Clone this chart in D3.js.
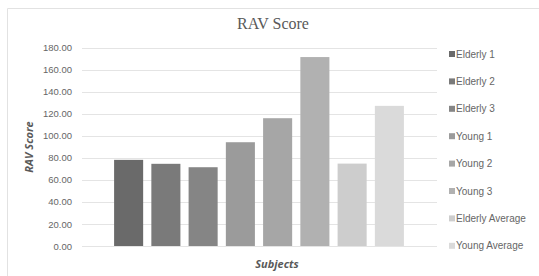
<!DOCTYPE html>
<html lang="en">
<head>
    <meta charset="UTF-8">
    <title>RAV Score</title>
    <script type="text/javascript" src="https://cdn.jsdelivr.net/npm/d3@7/dist/d3.min.js"></script>
    <style>
        body { margin: 0; background: #fff; }
        .axis text { font-family: "Liberation Sans", sans-serif; font-size: 9.5px; fill: #666; }
        .legend text { font-family: "Liberation Sans", sans-serif; font-size: 10px; fill: #666; }
    </style>
</head>
<body>
<script type="text/javascript">
    // data
    let subjects = ['Elderly 1', 'Elderly 2', 'Elderly 3', 'Young 1', 'Young 2', 'Young 3', 'Elderly Average', 'Young Average'];
    let scores = [78.2, 74.6, 71.5, 94.2, 116.0, 171.5, 74.8, 127.2];
    let yTicks = [0, 20, 40, 60, 80, 100, 120, 140, 160, 180];
    let colors = ['#6a6a6a', '#7a7a7a', '#858585', '#9b9b9b', '#a6a6a6', '#b1b1b1', '#cdcdcd', '#dadada'];

    let width = 539;
    let height = 276;
    let plot = {left: 82, right: 437, top: 47.7, bottom: 246};

    let svg = d3.select('body')
        .append('svg')
        .attr('width', width)
        .attr('height', height);

    // chart border
    svg.append('path')
        .attr('d', 'M7.5,' + height + 'V8.5H' + width)
        .attr('fill', 'none')
        .attr('stroke', '#e2e2e2');

    let xScale = d3.scaleBand()
        .domain(subjects)
        .range([110, 408])
        .paddingInner(0.22)
        .paddingOuter(0.11);

    let yScale = d3.scaleLinear()
        .domain([0, 180])
        .range([plot.bottom, plot.top]);

    // gridlines
    svg.append('g')
        .selectAll('line')
        .data(yTicks)
        .enter()
        .append('line')
        .attr('x1', plot.left)
        .attr('x2', plot.right)
        .attr('y1', function (d) { return Math.round(yScale(d)) + 0.5; })
        .attr('y2', function (d) { return Math.round(yScale(d)) + 0.5; })
        .attr('stroke', '#e4e4e4');

    // y axis labels
    let yAxis = d3.axisLeft(yScale)
        .tickValues(yTicks)
        .tickFormat(d3.format('.2f'))
        .tickSize(0)
        .tickPadding(10);
    svg.append('g')
        .attr('class', 'axis')
        .attr('transform', 'translate(' + plot.left + ',0)')
        .call(yAxis)
        .call(function (g) { g.select('.domain').remove(); });

    // bars
    svg.selectAll('.bar')
        .data(subjects)
        .enter()
        .append('rect')
        .attr('class', 'bar')
        .attr('x', function (d) { return xScale(d); })
        .attr('width', xScale.bandwidth())
        .attr('y', function (d, i) { return yScale(scores[i]); })
        .attr('height', function (d, i) { return plot.bottom - yScale(scores[i]); })
        .attr('fill', function (d, i) { return colors[i]; });

    // title
    svg.append('text')
        .attr('x', 273)
        .attr('y', 29)
        .attr('text-anchor', 'middle')
        .style('font-family', '"Liberation Serif", serif')
        .style('font-size', '16px')
        .style('fill', '#595959')
        .text('RAV Score');

    // axis titles
    svg.append('text')
        .attr('transform', 'translate(33,147) rotate(-90)')
        .attr('text-anchor', 'middle')
        .style('font-family', '"Open Sans", sans-serif')
        .style('font-size', '11px')
        .style('font-weight', 'bold')
        .style('font-style', 'italic')
        .style('fill', '#595959')
        .text('RAV Score');

    svg.append('text')
        .attr('x', 277)
        .attr('y', 268)
        .attr('text-anchor', 'middle')
        .style('font-family', '"Open Sans", sans-serif')
        .style('font-size', '11px')
        .style('font-weight', 'bold')
        .style('font-style', 'italic')
        .style('fill', '#595959')
        .text('Subjects');

    // legend
    let legend = svg.append('g').attr('class', 'legend');
    let item = legend.selectAll('g')
        .data(subjects)
        .enter()
        .append('g')
        .attr('transform', function (d, i) { return 'translate(449,' + (54 + i * 27.4) + ')'; });
    item.append('rect')
        .attr('x', 0)
        .attr('y', -3)
        .attr('width', 6)
        .attr('height', 6)
        .attr('fill', function (d, i) { return colors[i]; });
    item.append('text')
        .attr('x', 7)
        .attr('y', 3.5)
        .text(function (d) { return d; });
</script>
</body>
</html>
